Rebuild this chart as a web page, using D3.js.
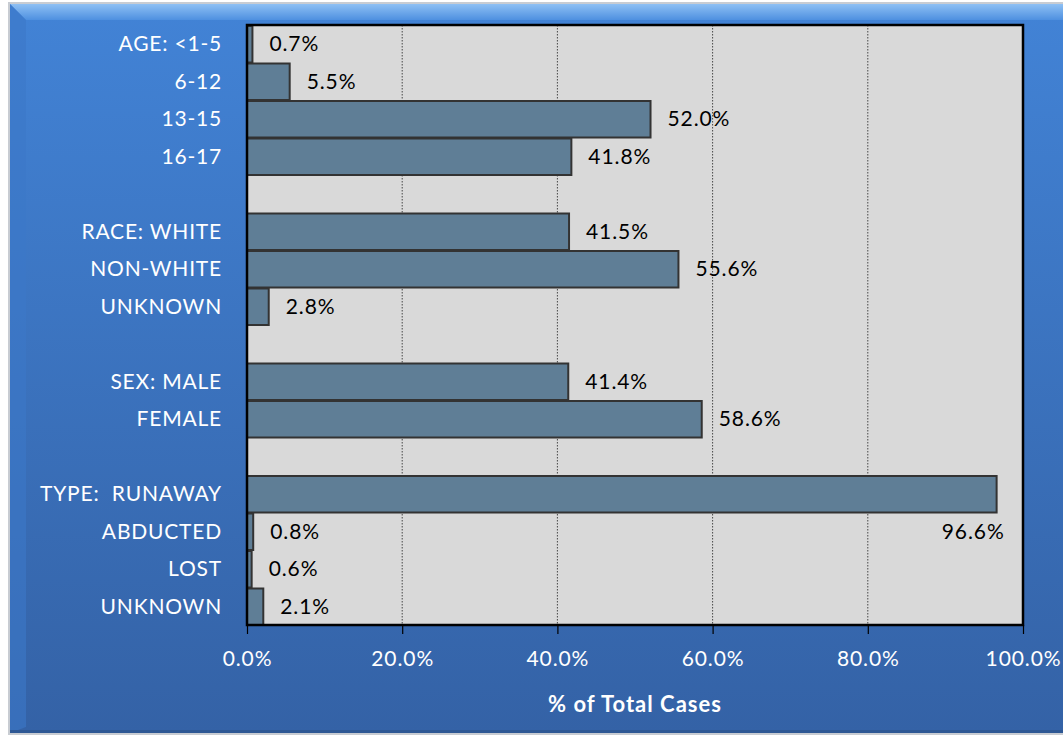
<!DOCTYPE html>
<html>
<head>
<meta charset="utf-8">
<script src="https://cdn.jsdelivr.net/npm/d3@7"></script>
<style>
  body { margin: 0; background: #fff; }
  svg { display: block; font-family: Lato, "Open Sans", sans-serif; }
</style>
</head>
<body>
<div id="chart"></div>
<script>
// rows top to bottom, blank strings are spacer rows
var categories = ["AGE: <1-5", "6-12", "13-15", "16-17", "",
                  "RACE: WHITE", "NON-WHITE", "UNKNOWN", "",
                  "SEX: MALE", "FEMALE", "",
                  "TYPE:  RUNAWAY", "ABDUCTED", "LOST", "UNKNOWN "];
var values = [0.7, 5.5, 52.0, 41.8, null,
              41.5, 55.6, 2.8, null,
              41.4, 58.6, null,
              96.6, 0.8, 0.6, 2.1];
var xTicks = [0, 20, 40, 60, 80, 100];
var axisTitle = "% of Total Cases";

var width = 1063, height = 735;
var margin = {left: 247, right: 40, top: 25, bottom: 110};

var svg = d3.select("#chart").append("svg")
    .attr("width", width)
    .attr("height", height);

var defs = svg.append("defs");
var bg = defs.append("linearGradient").attr("id", "bg")
    .attr("x1", 0).attr("y1", 0).attr("x2", 0).attr("y2", 1);
bg.append("stop").attr("offset", "0%").attr("stop-color", "#4283d6");
bg.append("stop").attr("offset", "100%").attr("stop-color", "#3462a6");

var bevel = defs.append("linearGradient").attr("id", "bevel")
    .attr("x1", 0).attr("y1", 0).attr("x2", 0).attr("y2", 1);
bevel.append("stop").attr("offset", "0%").attr("stop-color", "#8ec0f4");
bevel.append("stop").attr("offset", "100%").attr("stop-color", "#4e90e0");

// background panel
svg.append("rect").attr("x", 8).attr("y", 2).attr("width", width).attr("height", height - 2)
    .attr("fill", "#c8ccd2");
svg.append("rect").attr("x", 10).attr("y", 4).attr("width", width).attr("height", height - 6)
    .attr("fill", "url(#bg)");
svg.append("path")
    .attr("d", "M10,4 L" + width + ",4 L" + width + ",20 L26,20 Z")
    .attr("fill", "url(#bevel)");
svg.append("path")
    .attr("d", "M10,4 L26,20 L26," + (height - 8) + " L10," + (height - 2) + " Z")
    .attr("fill", "#3c78c8").attr("opacity", 0.6);
svg.append("rect").attr("x", 10).attr("y", height - 5).attr("width", width).attr("height", 3)
    .attr("fill", "#2e5894");

var x = d3.scaleLinear().domain([0, 100]).range([margin.left, width - margin.right]);
var y = d3.scaleBand().domain(d3.range(categories.length))
    .range([margin.top, height - margin.bottom]).paddingInner(0).paddingOuter(0);

// plot area
svg.append("rect")
    .attr("x", x(0)).attr("y", margin.top)
    .attr("width", x(100) - x(0)).attr("height", height - margin.bottom - margin.top)
    .attr("fill", "#d9d9d9");

// gridlines
svg.append("g").selectAll("line")
    .data(xTicks.slice(1, -1))
    .join("line")
    .attr("x1", d => x(d)).attr("x2", d => x(d))
    .attr("y1", margin.top).attr("y2", height - margin.bottom)
    .attr("stroke", "#222").attr("stroke-width", 0.8)
    .attr("stroke-dasharray", "1.5,1.5");

// bars
var rows = categories.map((c, i) => ({label: c, value: values[i], i: i}));
svg.append("g").selectAll("rect")
    .data(rows.filter(d => d.value != null))
    .join("rect")
    .attr("x", x(0))
    .attr("y", d => y(d.i) + 1)
    .attr("width", d => x(d.value) - x(0))
    .attr("height", y.bandwidth() - 1)
    .attr("fill", "#5f7e96")
    .attr("stroke", "#333")
    .attr("stroke-width", 2);

// value labels
svg.append("g").selectAll("text")
    .data(rows.filter(d => d.value != null))
    .join("text")
    .attr("x", d => d.value > 90 ? x(d.value) + 8 : x(d.value) + 17)
    .attr("y", d => d.value > 90 ? y(d.i) + y.bandwidth() * 1.5 + 2 : y(d.i) + y.bandwidth() / 2 + 2)
    .attr("text-anchor", d => d.value > 90 ? "end" : "start")
    .attr("dominant-baseline", "middle")
    .attr("font-size", 21)
    .attr("letter-spacing", 0.9)
    .attr("fill", "#000")
    .text(d => d.value.toFixed(1) + "%");

// category labels
svg.append("g").selectAll("text")
    .data(rows.filter(d => d.label !== ""))
    .join("text")
    .attr("x", x(0) - 25)
    .attr("y", d => y(d.i) + y.bandwidth() / 2 + 2)
    .attr("text-anchor", "end")
    .attr("dominant-baseline", "middle")
    .attr("font-size", 21)
    .attr("letter-spacing", 0.8)
    .attr("fill", "#fff")
    .style("white-space", "pre")
    .text(d => d.label.trim());

// plot border
svg.append("rect")
    .attr("x", x(0)).attr("y", margin.top)
    .attr("width", x(100) - x(0)).attr("height", height - margin.bottom - margin.top)
    .attr("fill", "none").attr("stroke", "#000").attr("stroke-width", 2.5);

// x axis
var xAxis = svg.append("g")
    .attr("transform", "translate(0," + (height - margin.bottom) + ")")
    .call(d3.axisBottom(x).tickValues(xTicks).tickSize(9).tickPadding(17)
        .tickFormat(d => d.toFixed(1) + "%"));
xAxis.select(".domain").remove();
xAxis.selectAll("line").attr("stroke", "#000").attr("stroke-width", 1.2);
xAxis.selectAll("text").attr("fill", "#fff").attr("font-size", 21)
    .attr("letter-spacing", 0.9)
    .attr("font-family", "Lato, 'Open Sans', sans-serif");

svg.append("text")
    .attr("x", (x(0) + x(100)) / 2)
    .attr("y", 706)
    .attr("text-anchor", "middle")
    .attr("dominant-baseline", "middle")
    .attr("font-size", 22)
    .attr("letter-spacing", 1)
    .attr("font-weight", "bold")
    .attr("fill", "#fff")
    .text(axisTitle);
</script>
</body>
</html>
